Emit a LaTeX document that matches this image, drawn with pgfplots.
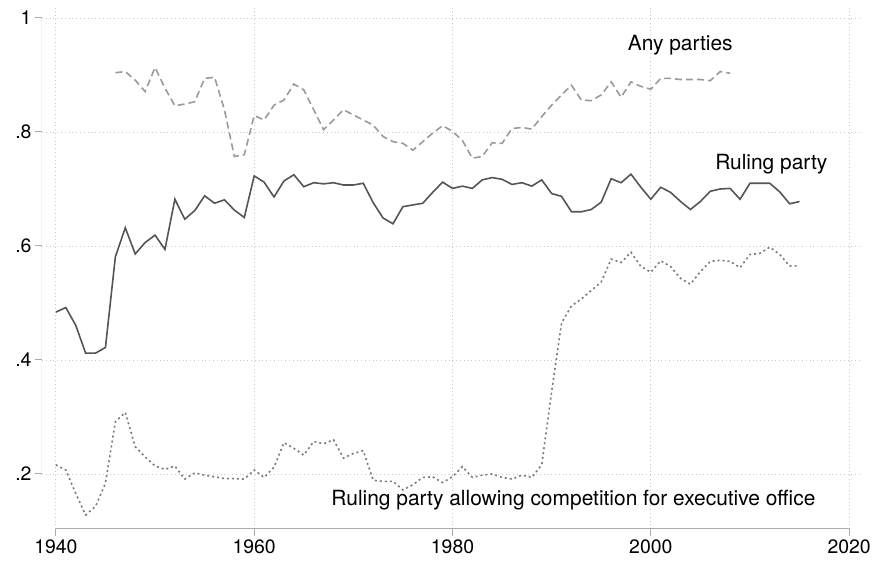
\documentclass[border=0pt]{standalone}
\usepackage{fontspec}
\setmainfont{TeX Gyre Heros}
\usepackage{pgfplots}
\pgfplotsset{compat=1.18}
\definecolor{rulc}{HTML}{555555}
\definecolor{anyc}{HTML}{9A9A9A}
\definecolor{comc}{HTML}{7A7A7A}
\definecolor{axc}{HTML}{AAAAAA}
\definecolor{grc}{HTML}{C8C8C8}
\begin{document}
\begin{tikzpicture}[x=1bp,y=1bp]
\useasboundingbox (-42,-33) rectangle (835,529);
\begin{axis}[
  scale only axis, width=820bp, height=524bp,
  xmin=1938.6, xmax=2021.3, ymin=0.1035, ymax=1.0228,
  axis line style={draw=none},
  tick pos=left, tick align=outside, major tick length=7bp,
  tick style={axc, line width=1bp},
  xtick={1940,1960,1980,2000,2020}, xticklabels={1940,1960,1980,2000,2020},
  ytick={0.2,0.4,0.6,0.8,1}, yticklabels={.2,.4,.6,.8,1},
  ticklabel style={font=\fontsize{19.5}{20}\selectfont, text=black},
  grid=major, major grid style={grc, line width=0.8bp, dash pattern=on 0.8bp off 3bp},
]
\draw[axc, line width=1bp] (rel axis cs:0,0.1050) -- (rel axis cs:0,0.9752);
\draw[axc, line width=1bp] (axis cs:1940,0.1035) -- (axis cs:2020,0.1035);
% Any parties
\addplot[anyc, line width=1.6bp, dash pattern=on 7bp off 4bp] coordinates {
(1946,0.904)(1947,0.906)(1948,0.891)(1949,0.871)(1950,0.913)(1951,0.877)(1952,0.846)(1953,0.849)(1954,0.853)(1955,0.894)(1956,0.896)(1957,0.839)(1958,0.757)(1959,0.760)(1960,0.829)(1961,0.821)(1962,0.847)(1963,0.856)(1964,0.884)(1965,0.874)(1966,0.839)(1967,0.804)(1968,0.821)(1969,0.839)(1970,0.830)(1971,0.821)(1972,0.812)(1973,0.792)(1974,0.783)(1975,0.780)(1976,0.768)(1977,0.783)(1978,0.798)(1979,0.811)(1980,0.801)(1981,0.785)(1982,0.754)(1983,0.757)(1984,0.781)(1985,0.780)(1986,0.806)(1987,0.808)(1988,0.805)(1989,0.827)(1990,0.847)(1991,0.865)(1992,0.882)(1993,0.856)(1994,0.855)(1995,0.865)(1996,0.888)(1997,0.861)(1998,0.888)(1999,0.880)(2000,0.875)(2001,0.894)(2002,0.894)(2003,0.892)(2004,0.892)(2005,0.892)(2006,0.890)(2007,0.906)(2008,0.903)
};
% Ruling party
\addplot[rulc, line width=1.6bp] coordinates {
(1940,0.484)(1941,0.492)(1942,0.461)(1943,0.412)(1944,0.412)(1945,0.422)(1946,0.581)(1947,0.632)(1948,0.586)(1949,0.606)(1950,0.619)(1951,0.594)(1952,0.682)(1953,0.647)(1954,0.662)(1955,0.688)(1956,0.675)(1957,0.681)(1958,0.663)(1959,0.650)(1960,0.723)(1961,0.712)(1962,0.686)(1963,0.714)(1964,0.725)(1965,0.704)(1966,0.711)(1967,0.709)(1968,0.711)(1969,0.707)(1970,0.707)(1971,0.710)(1972,0.676)(1973,0.649)(1974,0.639)(1975,0.669)(1976,0.672)(1977,0.675)(1978,0.694)(1979,0.712)(1980,0.701)(1981,0.705)(1982,0.701)(1983,0.716)(1984,0.720)(1985,0.717)(1986,0.708)(1987,0.711)(1988,0.705)(1989,0.716)(1990,0.692)(1991,0.687)(1992,0.660)(1993,0.660)(1994,0.664)(1995,0.677)(1996,0.718)(1997,0.711)(1998,0.726)(1999,0.703)(2000,0.682)(2001,0.703)(2002,0.694)(2003,0.678)(2004,0.664)(2005,0.678)(2006,0.696)(2007,0.700)(2008,0.701)(2009,0.682)(2010,0.710)(2011,0.710)(2012,0.710)(2013,0.695)(2014,0.674)(2015,0.678)
};
% Ruling party allowing competition
\addplot[comc, line width=1.6bp, dash pattern=on 2bp off 3bp] coordinates {
(1940,0.216)(1941,0.207)(1942,0.166)(1943,0.128)(1944,0.143)(1945,0.184)(1946,0.292)(1947,0.308)(1948,0.248)(1949,0.230)(1950,0.214)(1951,0.208)(1952,0.214)(1953,0.191)(1954,0.202)(1955,0.198)(1956,0.195)(1957,0.192)(1958,0.192)(1959,0.191)(1960,0.207)(1961,0.194)(1962,0.212)(1963,0.255)(1964,0.245)(1965,0.233)(1966,0.257)(1967,0.253)(1968,0.260)(1969,0.228)(1970,0.236)(1971,0.241)(1972,0.189)(1973,0.187)(1974,0.187)(1975,0.172)(1976,0.181)(1977,0.194)(1978,0.195)(1979,0.185)(1980,0.195)(1981,0.213)(1982,0.194)(1983,0.198)(1984,0.200)(1985,0.194)(1986,0.191)(1987,0.198)(1988,0.194)(1989,0.216)(1990,0.345)(1991,0.465)(1992,0.495)(1993,0.507)(1994,0.522)(1995,0.537)(1996,0.577)(1997,0.571)(1998,0.589)(1999,0.564)(2000,0.554)(2001,0.574)(2002,0.564)(2003,0.543)(2004,0.533)(2005,0.555)(2006,0.573)(2007,0.575)(2008,0.573)(2009,0.562)(2010,0.585)(2011,0.587)(2012,0.598)(2013,0.585)(2014,0.565)(2015,0.565)
};
\node[font=\fontsize{21}{22}\selectfont, inner sep=0pt] at (axis cs:2002.97,0.953) {Any parties};
\node[font=\fontsize{21}{22}\selectfont, inner sep=0pt] at (axis cs:2012.15,0.744) {Ruling party};
\node[font=\fontsize{21}{22}\selectfont, inner sep=0pt] at (axis cs:1992.2,0.154) {Ruling party allowing competition for executive office};
\end{axis}
\end{tikzpicture}
\end{document}
